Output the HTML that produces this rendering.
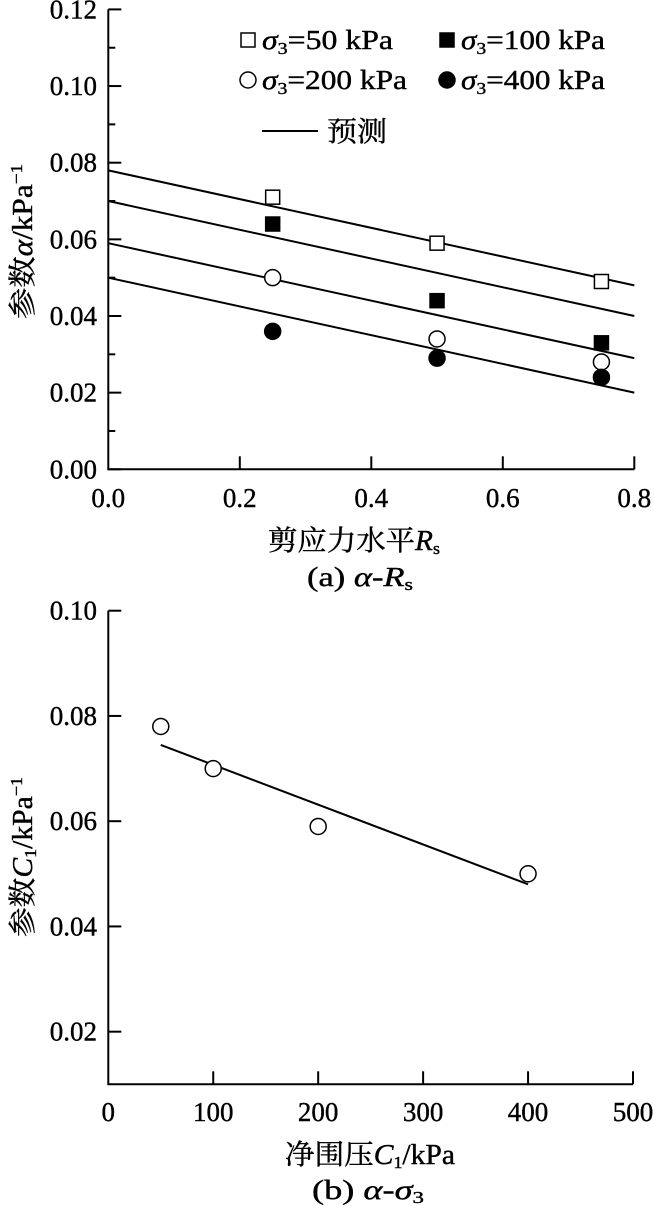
<!DOCTYPE html>
<html><head><meta charset="utf-8"><style>
body{margin:0;background:#fff;}
svg{display:block;font-family:"Liberation Serif","Noto Serif CJK SC","Noto Sans CJK SC",serif;}
text{fill:#000;stroke:#000;stroke-width:0.4px;}
</style></head><body>
<svg id="c" width="654" height="1206" viewBox="0 0 654 1206">
<g id="top"></g>
<g id="bot"></g>
</svg>
<script>
// ----- Chart (a) data -----
const rsLevels = [0.25, 0.5, 0.75];
const s50 = [0.071, 0.059, 0.049];
const s100 = [0.064, 0.044, 0.033];
const s200 = [0.050, 0.034, 0.028];
const s400 = [0.036, 0.029, 0.024];
const predStart = [0.078, 0.070, 0.059, 0.050];
const predEnd = [0.048, 0.040, 0.029, 0.020];
const predRange = [0, 0.8];
const aYTicks = ["0.00","0.02","0.04","0.06","0.08","0.10","0.12"];
const aXTicks = ["0.0","0.2","0.4","0.6","0.8"];
// ----- Chart (b) data -----
const sigma3 = [50, 100, 200, 400];
const c1Vals = [0.078, 0.070, 0.059, 0.050];
const fitX = [50, 400];
const fitY = [0.0745, 0.048];
const bYTicks = ["0.02","0.04","0.06","0.08","0.10"];
const bXTicks = ["0","100","200","300","400","500"];

const NS="http://www.w3.org/2000/svg";
function mk(parent,tag,attrs){const e=document.createElementNS(NS,tag);for(const k in attrs)e.setAttribute(k,attrs[k]);parent.appendChild(e);return e;}

const ax=v=>108.3+v*(634.3-108.3)/0.8;
const ay=v=>469.3-v*(469.3-9.4)/0.12;
const bx=v=>108.3+v*(633-108.3)/500;
const by=v=>1084.3-(v-0.01)*(1084.3-610.7)/0.09;

const T=document.getElementById('top');
let e;
e=mk(T,'path',{d:`M${ax(0)} ${ay(0.12)} V${ay(0)} H${ax(0.8)}`,fill:'none',stroke:'#000','stroke-width':2});


for(let i=0;i<=12;i++){const v=i*0.01;const len=i%2==0?13:7;
 e=mk(T,'line',{x1:ax(0),x2:ax(0)+len,y1:ay(v),y2:ay(v),stroke:'#000','stroke-width':2});
 
 }
aYTicks.forEach(t=>{e=mk(T,'text',{x:97,y:ay(parseFloat(t))+9,'text-anchor':'end','font-size':27});e.textContent=t;
 
 });
aXTicks.forEach(t=>{const v=parseFloat(t);
 if(v>0){e=mk(T,'line',{x1:ax(v),x2:ax(v),y1:ay(0),y2:ay(0)-13,stroke:'#000','stroke-width':2});
 
 }
 e=mk(T,'text',{x:ax(v),y:507,'text-anchor':'middle','font-size':27});e.textContent=t;
 
 });
for(let i=0;i<4;i++){
 e=mk(T,'line',{x1:ax(predRange[0]),y1:ay(predStart[i]),x2:ax(predRange[1]),y2:ay(predEnd[i]),stroke:'#000','stroke-width':2});
 
 }
function marker(g,kind,x,y){
 let m;
 if(kind=='os'||kind=='fs') m=mk(g,'rect',{x:x-7,y:y-7,width:14,height:14,fill:kind=='fs'?'#000':'#fff',stroke:'#000','stroke-width':1.5});
 else m=mk(g,'circle',{cx:x,cy:y,r:8,fill:kind=='fc'?'#000':'#fff',stroke:'#000','stroke-width':1.5});
 return m;}
[[s50,'os','s50'],[s100,'fs','s100'],[s200,'oc','s200'],[s400,'fc','s400']].forEach(([arr,k,n])=>{
 arr.forEach((v,j)=>{e=marker(T,k,ax(rsLevels[j]),ay(v));
 
 });});
const L=mk(T,'g',{});


const leg=[['os',248,40,'50',131],['fs',447,40,'100',144],['oc',248,80,'200',145],['fc',447,80,'400',144]];
leg.forEach(([k,x,y,val,w])=>{e=marker(L,k,x,y);
 
 
 e=mk(L,'text',{x:x+14,y:y+9,'font-size':27,textLength:w,lengthAdjust:'spacingAndGlyphs'});
 e.innerHTML=`<tspan font-style="italic">σ</tspan><tspan font-size="17" dy="5">3</tspan><tspan dy="-5">=${val} kPa</tspan>`;
 
 });
e=mk(L,'line',{x1:262,x2:318,y1:131,y2:131,stroke:'#000','stroke-width':2});


e=mk(L,'text',{x:327,y:141,'font-size':28,textLength:60,lengthAdjust:'spacingAndGlyphs'});e.textContent='预测';


e=mk(T,'text',{x:268,y:550,'font-size':28,textLength:172,lengthAdjust:'spacingAndGlyphs'});
e.innerHTML='剪应力水平<tspan font-style="italic">R</tspan><tspan font-size="17" dy="4">s</tspan>';


e=mk(T,'text',{x:307,y:586,'font-size':27,textLength:106,lengthAdjust:'spacingAndGlyphs'});
e.innerHTML='(a) <tspan font-style="italic">α</tspan>-<tspan font-style="italic">R</tspan><tspan font-size="17" dy="4">s</tspan>';


e=mk(T,'text',{x:-77,y:0,'font-size':28,textLength:155,lengthAdjust:'spacingAndGlyphs',transform:'translate(32,242) rotate(-90)'});
e.innerHTML='参数<tspan font-style="italic">α</tspan>/kPa<tspan font-size="17" dy="-10">−1</tspan>';



// ----- chart b -----
const B=document.getElementById('bot');
e=mk(B,'path',{d:`M${bx(0)} ${by(0.10)} V${by(0.01)} H${bx(500)}`,fill:'none',stroke:'#000','stroke-width':2});


bYTicks.forEach(t=>{const v=parseFloat(t);
 e=mk(B,'line',{x1:bx(0),x2:bx(0)+13,y1:by(v),y2:by(v),stroke:'#000','stroke-width':2});
 
 
 e=mk(B,'text',{x:97,y:by(v)+9,'text-anchor':'end','font-size':27});e.textContent=t;
 
 });
bXTicks.forEach(t=>{const v=parseFloat(t);
 if(v>0){e=mk(B,'line',{x1:bx(v),x2:bx(v),y1:by(0.01),y2:by(0.01)-13,stroke:'#000','stroke-width':2});
 
 }
 e=mk(B,'text',{x:bx(v),y:1121,'text-anchor':'middle','font-size':27});e.textContent=t;
 
 });
e=mk(B,'line',{x1:bx(fitX[0]),y1:by(fitY[0]),x2:bx(fitX[1]),y2:by(fitY[1]),stroke:'#000','stroke-width':2});


sigma3.forEach((s,i)=>{e=marker(B,'oc',bx(s),by(c1Vals[i]));
 
 });
e=mk(B,'text',{x:285,y:1164,'font-size':28,textLength:170,lengthAdjust:'spacingAndGlyphs'});
e.innerHTML='净围压<tspan font-style="italic">C</tspan><tspan font-size="17" dy="4">1</tspan><tspan dy="-4">/kPa</tspan>';


e=mk(B,'text',{x:312,y:1199,'font-size':27,textLength:112,lengthAdjust:'spacingAndGlyphs'});
e.innerHTML='(b) <tspan font-style="italic">α</tspan>-<tspan font-style="italic">σ</tspan><tspan font-size="17" dy="4">3</tspan>';


e=mk(B,'text',{x:-80,y:0,'font-size':28,textLength:160,lengthAdjust:'spacingAndGlyphs',transform:'translate(32,857) rotate(-90)'});
e.innerHTML='参数<tspan font-style="italic">C</tspan><tspan font-size="17" dy="4">1</tspan><tspan dy="-4">/kPa</tspan><tspan font-size="17" dy="-10">−1</tspan>';


</script>
</body></html>
